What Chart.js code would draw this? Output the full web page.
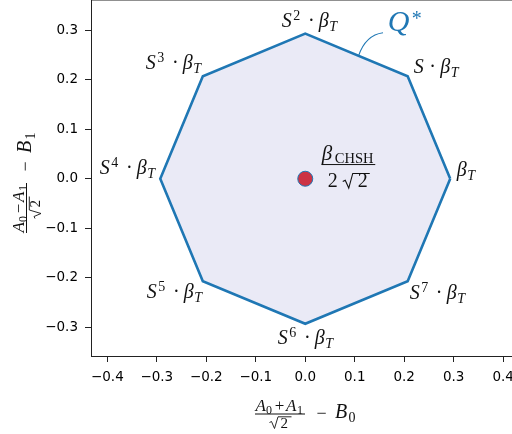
<!DOCTYPE html>
<html><head><meta charset="utf-8">
<script src="https://cdn.jsdelivr.net/npm/chart.js@4"></script>
<style>html,body{margin:0;padding:0;overflow:hidden;background:#fff}canvas{display:block}</style>
</head><body>
<canvas id="c" width="530" height="434"></canvas>
<script>
// ---- data ----
const vertexX = [0.293, 0.207, 0.0, -0.207, -0.293, -0.207, 0.0, 0.207, 0.293];
const vertexY = [0.0, 0.207, 0.293, 0.207, 0.0, -0.207, -0.293, -0.207, 0.0];
const vertexPowers = [0, 1, 2, 3, 4, 5, 6, 7]; // label: S^k · β_T
const centerX = [0.0];
const centerY = [0.0];
const xTickValues = [-0.4, -0.3, -0.2, -0.1, 0.0, 0.1, 0.2, 0.3, 0.4];
const yTickValues = [-0.3, -0.2, -0.1, 0.0, 0.1, 0.2, 0.3];

// ---- layout / style ----
const BLUE = '#1f77b4';
const INK = '#111';
const SERIF = '"Liberation Serif", "DejaVu Serif", serif';
const ital = s => `italic ${s}px ${SERIF}`;
const rom = s => `${s}px ${SERIF}`;
const LABEL_OFFSETS = [[6.5,-2.7],[6,-3.2],[-23.5,-7],[-57,-7.2],[-60.5,-4.7],[-56,16.8],[-27.5,19.7],[2,17.8]];

function txt(ctx, t, font, x, y, align) {
  ctx.font = font; ctx.textAlign = align || 'left'; ctx.textBaseline = 'alphabetic';
  ctx.fillText(t, x, y);
}
function radical(ctx, x, y, pts, lw) {
  ctx.beginPath();
  ctx.moveTo(x + pts[0][0], y + pts[0][1]);
  for (let i = 1; i < pts.length; i++) ctx.lineTo(x + pts[i][0], y + pts[i][1]);
  ctx.lineWidth = lw; ctx.lineJoin = 'miter'; ctx.stroke();
}
function vertexLabel(ctx, k, x, y) {
  ctx.fillStyle = INK;
  if (k === 0) {
    txt(ctx, 'β', ital(20), x, y);
    txt(ctx, 'T', ital(14), x + 10.5, y + 4);
    return;
  }
  txt(ctx, 'S', ital(20), x, y);
  let sh = 0;
  if (k > 1) { txt(ctx, String(k), rom(14), x + 11.5, y - 7); sh = 10.5; }
  txt(ctx, '·', rom(20), x + 19 + sh, y, 'center');
  txt(ctx, 'β', ital(20), x + 26.5 + sh, y);
  txt(ctx, 'T', ital(14), x + 37 + sh, y + 4);
}
function axisTitle(ctx, sign, sub) {
  // local frame: origin = left end of fraction bar
  ctx.fillStyle = INK; ctx.strokeStyle = INK;
  txt(ctx, 'A', ital(17), 0.5, -3);
  txt(ctx, '0', rom(12), 11, 0);
  txt(ctx, sign, rom(17), 24.5, -3, 'center');
  txt(ctx, 'A', ital(17), 31, -3);
  txt(ctx, '1', rom(12), 42, 0);
  ctx.fillRect(0, -0.5, 50, 1);
  radical(ctx, 0, 0, [[14.5, 8.5], [16.5, 7.5], [19.5, 14.5], [23, 2.8], [36.5, 2.8]], 0.9);
  txt(ctx, '2', rom(15), 25.5, 13.5);
  txt(ctx, '\u2212', rom(18), 66.5, 4.5, 'center');
  txt(ctx, 'B', ital(20), 80, 4);
  txt(ctx, sub, rom(14), 93.5, 8);
}

const annot = {
  id: 'annot',
  afterDatasetsDraw(chart) {
    const ctx = chart.ctx, xs = chart.scales.x, ys = chart.scales.y;
    const px = v => xs.getPixelForValue(v), py = v => ys.getPixelForValue(v);
    ctx.save();
    for (let i = 0; i < vertexPowers.length; i++) {
      const o = LABEL_OFFSETS[i];
      vertexLabel(ctx, vertexPowers[i], px(vertexX[i]) + o[0], py(vertexY[i]) + o[1]);
    }
    // beta_CHSH / (2 sqrt 2)
    const cx = px(centerX[0]), cy = py(centerY[0]);
    ctx.fillStyle = INK; ctx.strokeStyle = INK;
    txt(ctx, 'β', ital(21), cx + 16.5, cy - 18.5);
    txt(ctx, 'CHSH', rom(14.5), cx + 29.5, cy - 15.5);
    ctx.fillRect(cx + 16.5, cy - 14.7, 53.5, 1);
    txt(ctx, '2', rom(20), cx + 22.5, cy + 8.3);
    radical(ctx, cx, cy, [[37.5, 2.8], [40, 1.5], [43.5, 9.3], [47.5, -5.3], [64.5, -5.3]], 1.1);
    txt(ctx, '2', rom(20), cx + 52.5, cy + 8.3);
    // Q* annotation with curved connector to the edge V2->V1
    const t = 0.52;
    const ex = px(vertexX[2]) + t * (px(vertexX[1]) - px(vertexX[2]));
    const ey = py(vertexY[2]) + t * (py(vertexY[1]) - py(vertexY[2]));
    ctx.strokeStyle = BLUE; ctx.lineWidth = 1.1;
    ctx.beginPath();
    ctx.moveTo(ex + 24.5, ey - 23.1);
    ctx.quadraticCurveTo(ex + 7.2, ey - 20.8, ex, ey);
    ctx.stroke();
    ctx.fillStyle = BLUE;
    txt(ctx, 'Q', ital(30), ex + 29.2, ey - 24.8);
    txt(ctx, '*', rom(20), ex + 53.2, ey - 31);
    ctx.restore();
  },
  afterDraw(chart) {
    const ctx = chart.ctx, a = chart.chartArea;
    ctx.save();
    ctx.strokeStyle = '#222'; ctx.lineWidth = 1.1;
    ctx.beginPath(); ctx.moveTo(a.left, 0); ctx.lineTo(a.right, 0); ctx.stroke();
    ctx.save(); ctx.translate(255, 414); axisTitle(ctx, '+', '0'); ctx.restore();
    ctx.save(); ctx.translate(26.5, 233); ctx.rotate(-Math.PI / 2); axisTitle(ctx, '\u2212', '1'); ctx.restore();
    ctx.restore();
  }
};

const fmt = v => (v < -1e-9 ? '\u2212' : '') + Math.abs(v).toFixed(1);
const noPad = s => { s.paddingTop = 0; s.paddingBottom = 0; s.paddingLeft = 0; s.paddingRight = 0; };
const axisCommon = {
  type: 'linear',
  grid: { display: true, drawOnChartArea: false, drawTicks: true, tickLength: 6, color: '#222', lineWidth: 1 },
  border: { display: true, color: '#222', width: 1 },
  ticks: { color: '#000', padding: 7, font: { family: 'DejaVu Sans', size: 13.5 }, callback: fmt, includeBounds: false }
};

new Chart(document.getElementById('c'), {
  type: 'scatter',
  data: {
    datasets: [
      {
        data: centerX.map((x, i) => ({x, y: centerY[i]})),
        pointRadius: 7.5, pointBorderWidth: 1,
        pointBackgroundColor: '#cc3344', pointBorderColor: BLUE, showLine: false
      },
      {
        data: vertexX.map((x, i) => ({x, y: vertexY[i]})),
        showLine: true, fill: 'shape', backgroundColor: '#eaeaf6',
        borderColor: BLUE, borderWidth: 2.6, borderJoinStyle: 'miter',
        pointRadius: 0, tension: 0
      }
    ]
  },
  options: {
    responsive: false, animation: false, devicePixelRatio: 1,
    layout: { autoPadding: false, padding: { left: 0, top: 0, right: 10.5, bottom: 0 } },
    plugins: { legend: { display: false }, tooltip: { enabled: false } },
    scales: {
      x: Object.assign({}, axisCommon, {
        min: -0.433, max: 0.433,
        afterBuildTicks: s => { s.ticks = xTickValues.map(v => ({value: v})); },
        afterFit: s => { s.height = 78; noPad(s); }
      }),
      y: Object.assign({}, axisCommon, {
        min: -0.358, max: 0.361,
        afterBuildTicks: s => { s.ticks = yTickValues.map(v => ({value: v})); },
        afterFit: s => { s.width = 91; noPad(s); }
      })
    }
  },
  plugins: [annot]
});
</script>
</body></html>
